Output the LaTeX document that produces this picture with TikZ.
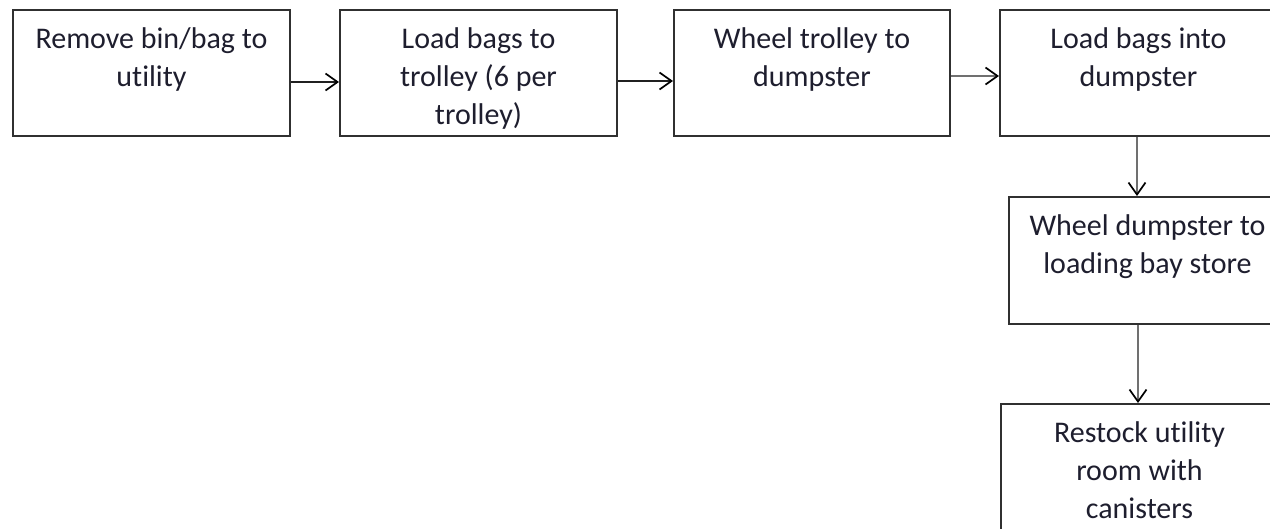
\documentclass[tikz,border=0pt]{standalone}
\usepackage{fontspec}
\setmainfont{Carlito}[Ligatures={NoCommon}]
\usetikzlibrary{arrows.meta}
\definecolor{txtcol}{HTML}{1E1E2E}
\definecolor{edgecol}{HTML}{303030}
\definecolor{shaftdark}{HTML}{202020}
\definecolor{shaftgray}{HTML}{707070}
\tikzset{
  box/.style={draw=edgecol, line width=2pt, fill=white, rectangle, inner sep=0pt, anchor=north west},
  boxtext/.style={align=center, inner sep=0pt, anchor=north, text=txtcol, font=\fontsize{30}{38}\selectfont},
  flow/.style={line width=2pt, draw=shaftdark, -{Straight Barb[length=12pt,width=17pt,line width=1.7pt,color=black]}},
  flowgray/.style={flow, draw=shaftgray}
}
\begin{document}
\begin{tikzpicture}[x=1pt,y=1pt]
\useasboundingbox (0,0) rectangle (1270,-528);
\fill[white] (0,0) rectangle (1270,-528);
% boxes
\node[box, minimum width=277pt, minimum height=126pt] (b1) at (12,-9) {};
\node[box, minimum width=277pt, minimum height=126pt] (b2) at (339,-9) {};
\node[box, minimum width=276pt, minimum height=126pt] (b3) at (673,-9) {};
\node[box, minimum width=277pt, minimum height=126pt] (b4) at (999,-9) {};
\node[box, minimum width=277pt, minimum height=127pt] (b5) at (1008,-196) {};
\node[box, minimum width=277pt, minimum height=126pt] (b6) at (1000,-403) {};
% texts
\node[boxtext] (t1) at ([yshift=-13pt]b1.north) {\strut Remove bin/bag to\\utility};
\node[boxtext] (t2) at ([yshift=-13pt]b2.north) {\strut Load bags to\\trolley (6 per\\trolley)};
\node[boxtext] (t3) at ([yshift=-13pt]b3.north) {\strut Wheel trolley to\\dumpster};
\node[boxtext] (t4) at ([yshift=-13pt]b4.north) {\strut Load bags into\\dumpster};
\node[boxtext] (t5) at ([yshift=-13pt]b5.north) {\strut Wheel dumpster to\\loading bay store};
\node[boxtext] (t6) at ([yshift=-13pt]b6.north) {\strut Restock utility\\room with\\canisters};
% connectors
\coordinate (s1) at ([yshift=-9pt]b1.east);
\draw[flow] (s1) -- (s1 -| b2.west);
\coordinate (s2) at ([yshift=-8pt]b2.east);
\draw[flow] (s2) -- (s2 -| b3.west);
\coordinate (s3) at ([yshift=-3pt]b3.east);
\draw[flowgray] (s3) -- (s3 -| b4.west);
\coordinate (s4) at ([xshift=-1.5pt]b4.south);
\draw[flowgray] (s4) -- (s4 |- b5.north);
\coordinate (s5) at ([xshift=-1.5pt]b6.north);
\draw[flowgray] (s5 |- b5.south) -- (s5);
\end{tikzpicture}
\end{document}
